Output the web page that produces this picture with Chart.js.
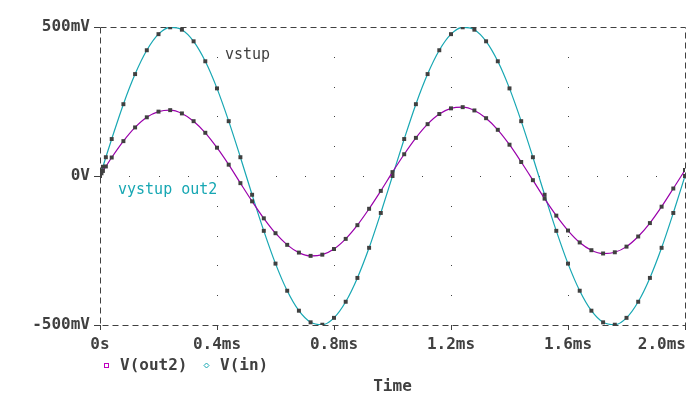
<!DOCTYPE html>
<html>
<head>
<meta charset="utf-8">
<script src="https://cdn.jsdelivr.net/npm/chart.js@4.4.0/dist/chart.umd.min.js"></script>
<style>
  html, body { margin: 0; padding: 0; background: #fff; }
  #wrap { width: 691px; height: 396px; }
</style>
</head>
<body>
<div id="wrap"><canvas id="plot" width="691" height="396"></canvas></div>
<script>
// transient sim, time in ms, voltages in mV
const timeMs = [0, 0.005, 0.01, 0.02, 0.04, 0.08, 0.12, 0.16, 0.20, 0.24, 0.28, 0.32, 0.36, 0.40,
  0.44, 0.48, 0.52, 0.56, 0.60, 0.64, 0.68, 0.72, 0.76, 0.80, 0.84, 0.88, 0.92, 0.96, 1.00,
  1.04, 1.08, 1.12, 1.16, 1.20, 1.24, 1.28, 1.32, 1.36, 1.40, 1.44, 1.48, 1.52, 1.56, 1.60,
  1.64, 1.68, 1.72, 1.76, 1.80, 1.84, 1.88, 1.92, 1.96, 2.00];
const vIn = [0, 16, 31, 63, 124, 241, 342, 422, 476, 499, 491, 452, 385, 294,
  184, 63, -63, -184, -294, -385, -452, -491, -499, -476, -422, -342, -241, -124, 0,
  124, 241, 342, 422, 476, 499, 491, 452, 385, 294, 184, 63, -63, -184, -294,
  -385, -452, -491, -499, -476, -422, -342, -241, -124, 0];
const vOut2 = [0, 9, 17, 32, 62, 117, 163, 197, 216, 221, 210, 184, 145, 95,
  38, -24, -85, -142, -192, -231, -257, -268, -264, -245, -211, -165, -110, -50, 13,
  73, 128, 174, 208, 227, 231, 220, 194, 155, 105, 47, -14, -76, -133, -183,
  -223, -249, -260, -256, -237, -203, -158, -103, -42, 20];
const xTicks = [0, 0.4, 0.8, 1.2, 1.6, 2.0];
const yTicks = [-500, 0, 500];

const ink = '#404040';
const cyan = '#17a7b3';
const purple = '#9a00ab';
const mono = "'DejaVu Sans Mono', 'Liberation Mono', monospace";

function pts(ys) {
  return timeMs.map((t, i) => ({ x: t, y: ys[i] }));
}

function xLabel(v) {
  return v === 0 ? '0s' : v.toFixed(1) + 'ms';
}

const overlay = {
  id: 'overlay',
  beforeDatasetsDraw(chart) {
    const ctx = chart.ctx;
    const a = chart.chartArea;
    const xs = chart.scales.x, ys = chart.scales.y;
    ctx.save();
    ctx.fillStyle = ink;
    // dotted grid: columns at major x ticks, row at 0V
    xTicks.slice(1, -1).forEach(t => {
      const px = Math.round(xs.getPixelForValue(t));
      for (let mv = -400; mv <= 400; mv += 100) {
        ctx.fillRect(px, Math.round(ys.getPixelForValue(mv)), 1, 1);
      }
    });
    const py0 = Math.round(ys.getPixelForValue(0));
    for (let k = 1; k < 20; k++) {
      ctx.fillRect(Math.round(xs.getPixelForValue(k / 10)), py0, 1, 1);
    }
    // dashed frame
    ctx.strokeStyle = ink;
    ctx.lineWidth = 1;
    ctx.setLineDash([6, 4]);
    ctx.strokeRect(Math.floor(a.left) + 0.5, Math.floor(a.top) + 0.5,
      Math.round(a.right - a.left), Math.round(a.bottom - a.top));
    ctx.restore();
  },
  afterDraw(chart) {
    const ctx = chart.ctx;
    const a = chart.chartArea;
    const xs = chart.scales.x;
    ctx.save();
    ctx.textBaseline = 'middle';
    ctx.textAlign = 'left';

    // x tick labels, kept inside the canvas at the right end
    ctx.font = 'bold 16px ' + mono;
    ctx.fillStyle = ink;
    xTicks.forEach(t => {
      const txt = xLabel(t);
      const w = ctx.measureText(txt).width;
      let left = xs.getPixelForValue(t) - w / 2;
      if (left + w > a.right + 1) left = a.right + 1 - w;
      ctx.fillText(txt, left, 345);
    });

    ctx.font = '15px ' + mono;
    ctx.fillText('vstup', 225, 55);
    ctx.fillStyle = cyan;
    ctx.fillText('vystup out2', 118, 190);

    // legend
    ctx.font = 'bold 16px ' + mono;
    ctx.lineWidth = 1;
    ctx.strokeStyle = '#c000c0';
    ctx.strokeRect(104.5, 363.5, 4, 4);
    ctx.fillStyle = ink;
    ctx.fillText('V(out2)', 120, 366);
    ctx.strokeStyle = cyan;
    ctx.beginPath();
    ctx.moveTo(206.5, 363);
    ctx.lineTo(209, 365.5);
    ctx.lineTo(206.5, 368);
    ctx.lineTo(204, 365.5);
    ctx.closePath();
    ctx.stroke();
    ctx.fillText('V(in)', 220, 366);
    ctx.restore();
  }
};

new Chart(document.getElementById('plot'), {
  type: 'line',
  data: {
    datasets: [
      {
        label: 'V(out2)',
        data: pts(vOut2),
        borderColor: purple,
        borderWidth: 1.2,
        cubicInterpolationMode: 'monotone',
        pointStyle: 'rect',
        pointRadius: 2.8,
        pointBorderWidth: 0,
        pointBackgroundColor: ink
      },
      {
        label: 'V(in)',
        data: pts(vIn),
        borderColor: cyan,
        borderWidth: 1.2,
        cubicInterpolationMode: 'monotone',
        pointStyle: 'rect',
        pointRadius: 2.8,
        pointBorderWidth: 0,
        pointBackgroundColor: ink
      }
    ]
  },
  options: {
    responsive: false,
    animation: false,
    layout: { padding: { top: 27, right: 6, bottom: 0, left: 0 } },
    plugins: {
      legend: { display: false },
      tooltip: { enabled: false }
    },
    scales: {
      x: {
        type: 'linear',
        min: 0,
        max: 2,
        afterFit: s => { s.height = 71; s.paddingLeft = 0; s.paddingRight = 0; },
        afterBuildTicks: s => { s.ticks = xTicks.map(v => ({ value: v })); },
        border: { display: false },
        grid: { drawOnChartArea: false, drawTicks: true, tickLength: 5, color: ink },
        ticks: { display: false },
        title: {
          display: true,
          text: 'Time',
          color: ink,
          font: { family: mono, size: 16, weight: 'bold' },
          padding: { top: 0, bottom: 0 }
        }
      },
      y: {
        min: -500,
        max: 500,
        afterFit: s => { s.width = 100; },
        afterBuildTicks: s => { s.ticks = yTicks.map(v => ({ value: v })); },
        border: { display: false },
        grid: { drawOnChartArea: false, drawTicks: true, tickLength: 6, color: ink },
        ticks: {
          color: ink,
          padding: 4,
          font: { family: mono, size: 16, weight: 'bold' },
          callback: v => v === 0 ? '0V' : v + 'mV'
        }
      }
    }
  },
  plugins: [overlay]
});
</script>
</body>
</html>
